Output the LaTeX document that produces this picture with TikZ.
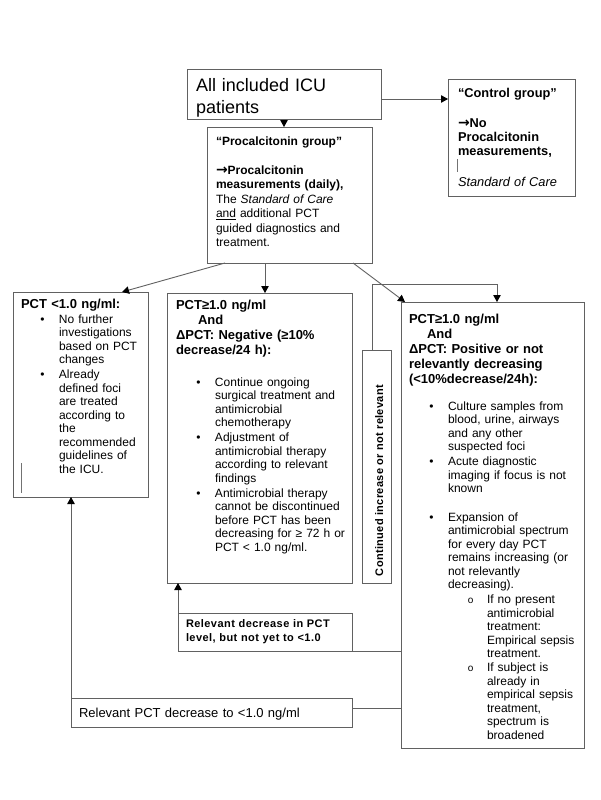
\documentclass[tikz,border=0pt]{standalone}
\usepackage{fontspec}
\setmainfont{Liberation Sans}
\newfontfamily\dvfont{DejaVu Sans}
\usetikzlibrary{arrows.meta}
\newcommand\bul{\leavevmode\llap{\textbullet\hspace{14.5pt}}}
\newcommand\subb{\leavevmode\hspace*{39pt}\llap{{\fontsize{10}{10}\selectfont o}\hspace{13.5pt}}}
\newcommand\ind{\leavevmode\hspace*{39pt}}
\newcommand\rarr{{\dvfont\bfseries\fontsize{14}{14}\selectfont →}}
\tikzset{
  box/.style={draw=black!62, line width=0.9pt, anchor=north west, inner sep=0pt, outer sep=0pt, fill=white},
  txt/.style={anchor=base west, inner sep=0pt, outer sep=0pt, align=left, text width=230pt},
  body/.style={txt, font=\fontsize{12}{13.5}\selectfont},
  head/.style={txt, font=\fontsize{13}{15.2}\selectfont\bfseries},
  ln/.style={draw=black!62, line width=0.9pt},
  arr/.style={ln, -{Triangle[length=7pt,width=7.5pt,color=black]}}
}
\begin{document}
\begin{tikzpicture}[x=1pt,y=-1pt]
\fill[white] (0,0) rectangle (600,800);
\useasboundingbox (0,0) rectangle (600,800);

% boxes
\node[box, minimum width=194pt, minimum height=50pt] (icu) at (187,69) {};
\node[box, minimum width=127pt, minimum height=117pt] (ctrl) at (448,79) {};
\node[box, minimum width=165pt, minimum height=136pt] (proc) at (207,127) {};
\node[box, minimum width=135pt, minimum height=205pt] (left) at (13,292) {};
\node[box, minimum width=185pt, minimum height=290pt] (mid) at (167,293) {};
\node[box, minimum width=183pt, minimum height=446pt] (right) at (401,302) {};
\node[box, minimum width=29pt, minimum height=233pt] (cont) at (362,350) {};
\node[box, minimum width=174pt, minimum height=38pt] (reldec) at (178,613) {};
\node[box, minimum width=281pt, minimum height=29pt] (relpct) at (71,698) {};

% texts
\node[txt, font=\fontsize{18}{21}\selectfont] (ticu) at (196,92) {All included ICU\\patients};

\node[txt, font=\fontsize{12.8}{14}\selectfont\bfseries] (tctrl) at (458,97)
  {“Control group”\\[16pt]
   \rarr No\\
   Procalcitonin\\
   measurements,\\[17pt]
   \mdseries\itshape Standard of Care};

\node[txt, font=\fontsize{12}{14.5}\selectfont] (tproc) at (216,145)
  {\textbf{“Procalcitonin group”}\\[14.5pt]
   \rarr\textbf{Procalcitonin}\\
   \textbf{measurements (daily),}\\
   The \textit{Standard of Care}\\
   \underline{and} additional PCT\\
   guided diagnostics and\\
   treatment.};

\node[head] (hleft) at (21,308) {PCT <1.0 ng/ml:};
\node[body] (bleft) at (59,323)
  {\bul No further\\
   investigations\\
   based on PCT\\
   changes\\[1.5pt]
   \bul Already\\
   defined foci\\
   are treated\\
   according to\\
   the\\
   recommended\\
   guidelines of\\
   the ICU.};

\node[head] (hmid) at (176,309)
  {PCT≥1.0 ng/ml\\
   \hspace*{22pt}And\\
   ΔPCT: Negative (≥10\%\\
   decrease/24 h):};
\node[body] (bmid) at (215,386)
  {\bul Continue ongoing\\
   surgical treatment and\\
   antimicrobial\\
   chemotherapy\\[1.5pt]
   \bul Adjustment of\\
   antimicrobial therapy\\
   according to relevant\\
   findings\\[1.5pt]
   \bul Antimicrobial therapy\\
   cannot be discontinued\\
   before PCT has been\\
   decreasing for ≥ 72 h or\\
   PCT < 1.0 ng/ml.};

\node[head, font=\fontsize{13}{15}\selectfont\bfseries] (hright) at (409,323)
  {PCT≥1.0 ng/ml\\
   \hspace*{18pt}And\\
   ΔPCT: Positive or not\\
   relevantly decreasing\\
   (<10\%decrease/24h):};
\node[body] (bright) at (448,410)
  {\bul Culture samples from\\
   blood, urine, airways\\
   and any other\\
   suspected foci\\[1.5pt]
   \bul Acute diagnostic\\
   imaging if focus is not\\
   known\\[15pt]
   \bul Expansion of\\
   antimicrobial spectrum\\
   for every day PCT\\
   remains increasing (or\\
   not relevantly\\
   decreasing).\\[1.5pt]
   \subb If no present\\
   \ind antimicrobial\\
   \ind treatment:\\
   \ind Empirical sepsis\\
   \ind treatment.\\[0.5pt]
   \subb If subject is\\
   \ind already in\\
   \ind empirical sepsis\\
   \ind treatment,\\
   \ind spectrum is\\
   \ind broadened};

\node[anchor=base, inner sep=0pt, rotate=90, font=\fontsize{11}{13}\selectfont\bfseries\addfontfeature{LetterSpace=3}] (tcont) at (383,480.5)
  {Continued increase or not relevant};

\node[txt, font=\fontsize{11}{14}\selectfont\bfseries\addfontfeature{LetterSpace=4}] (treldec) at (186,627)
  {Relevant decrease in PCT\\
   level, but not yet to <1.0};

\node[txt, font=\fontsize{13}{15}\selectfont] (trelpct) at (79,717)
  {Relevant PCT decrease to <1.0 ng/ml};

% cursor marks
\draw[black!55, line width=1pt] (21,463) -- (21,493);
\draw[black!55, line width=0.6pt] (457,159) -- (457,172);

% connectors
\draw[arr] ([xshift=97pt]icu.south west) -- ([xshift=77pt]proc.north west);
\draw[arr] ([yshift=-5pt]icu.east) -- ([yshift=-5pt]icu.east -| ctrl.west);
\draw[arr] ([xshift=18pt]proc.south west) -- ([xshift=109pt]left.north west);
\draw[arr] ([xshift=58pt]proc.south west) -- ([xshift=98pt]mid.north west);
\draw[arr] ([xshift=146pt]proc.south west) -- ([xshift=4pt]right.north west);
\draw[arr] ([xshift=10pt]cont.north west) |- ([xshift=96pt,yshift=18pt]right.north west) -- ([xshift=96pt]right.north west);
\draw[arr] (reldec.north west) -- ([xshift=11pt]mid.south west);
\draw[ln] (reldec.south east) -- (reldec.south east -| right.west);
\draw[arr] (relpct.north west) -- ([xshift=58pt]left.south west);
\draw[ln] ([yshift=4.5pt]relpct.east) -- ([yshift=4.5pt]relpct.east -| right.west);
\end{tikzpicture}
\end{document}
